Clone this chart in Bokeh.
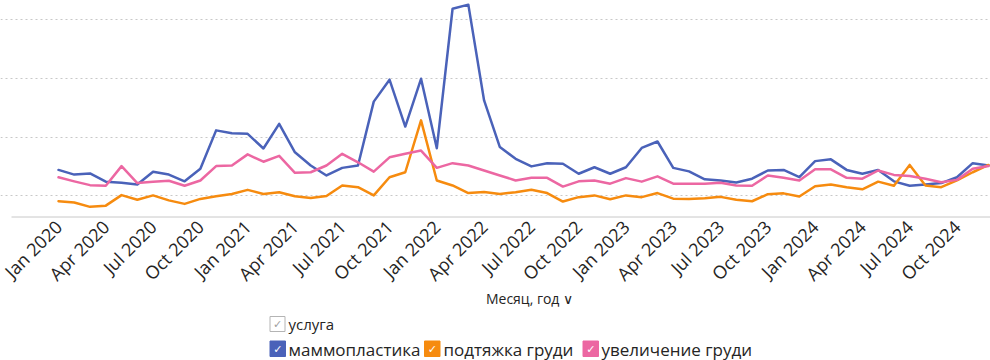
from bokeh.plotting import figure
from bokeh.models import Range1d, FixedTicker, ColumnDataSource
from bokeh.core.properties import value
from bokeh.embed import file_html
from bokeh.resources import INLINE

# ---------------- data ----------------
month_index = list(range(60))  # Jan 2020 .. Dec 2024
tick_positions = list(range(0, 60, 3))
tick_labels = ["Jan 2020", "Apr 2020", "Jul 2020", "Oct 2020",
               "Jan 2021", "Apr 2021", "Jul 2021", "Oct 2021",
               "Jan 2022", "Apr 2022", "Jul 2022", "Oct 2022",
               "Jan 2023", "Apr 2023", "Jul 2023", "Oct 2023",
               "Jan 2024", "Apr 2024", "Jul 2024", "Oct 2024"]

mammoplastika = [28.8, 27.2, 27.6, 24.8, 24.4, 23.8, 28.2, 27.2, 24.9, 29.2,
                 42.3, 41.3, 41.1, 36.1, 44.5, 34.8, 30.3, 26.9, 29.5, 30.3,
                 52.1, 59.6, 43.6, 59.9, 36.2, 83.8, 85.2, 52.5, 36.6, 32.6,
                 30.0, 31.1, 30.9, 27.5, 29.7, 27.5, 29.7, 36.3, 38.5, 29.5,
                 28.3, 25.6, 25.2, 24.5, 25.8, 28.6, 28.8, 26.3, 31.8, 32.4,
                 28.8, 27.5, 28.8, 24.9, 23.4, 23.8, 24.3, 26.3, 31.1, 30.3]
podtyazhka = [18.1, 17.7, 16.2, 16.6, 20.2, 18.6, 20.1, 18.4, 17.2, 18.9,
              19.8, 20.6, 22.0, 20.6, 21.2, 19.8, 19.2, 19.9, 23.5, 22.9,
              20.1, 26.3, 28.0, 45.7, 25.2, 23.5, 20.9, 21.3, 20.6, 21.2,
              22.0, 20.9, 18.0, 19.5, 20.1, 18.8, 20.1, 19.5, 20.9, 19.0,
              18.9, 19.1, 19.6, 18.6, 18.1, 20.5, 20.8, 19.7, 23.2, 23.8,
              22.9, 22.2, 24.8, 23.4, 30.5, 23.5, 22.9, 25.2, 28.0, 30.5]
uvelichenie = [26.3, 24.9, 23.6, 23.4, 30.1, 24.3, 24.8, 25.1, 23.4, 25.2,
               30.1, 30.3, 34.1, 31.6, 33.6, 27.8, 28.0, 30.3, 34.3, 31.4,
               28.2, 33.1, 34.3, 35.4, 29.5, 31.1, 30.3, 28.6, 26.9, 25.2,
               26.1, 26.1, 23.1, 24.9, 25.2, 24.1, 26.0, 24.8, 26.6, 24.1,
               24.1, 24.1, 24.4, 23.5, 23.4, 26.9, 26.1, 25.2, 29.0, 29.0,
               26.1, 25.8, 28.6, 27.1, 26.7, 25.8, 24.6, 25.4, 29.2, 30.1]

series_names = ["маммопластика", "подтяжка груди", "увеличение груди"]
series_values = [mammoplastika, podtyazhka, uvelichenie]
series_colors = ["#4A62B9", "#F68B0F", "#EC67A2"]
legend_title = "услуга"
axis_title = "Месяц, год \u2228"
grid_values = [20, 40, 60, 80]

FONT = "Open Sans"
TEXT_COLOR = "#252423"

# ---------------- layout constants (pixels) ----------------
W, H = 990, 360
FIRST_X, LAST_X = 58, 988          # page x of first / last month
PX_PER_MONTH = (LAST_X - FIRST_X) / (len(month_index) - 1)
PX_PER_UNIT_Y = 2.93               # vertical pixels per value unit
Y_TOP = 86.62                      # value at the top edge
BASE_PX = 216                      # page y of the category axis line
FRAME_LEFT = 11

x_start = -FIRST_X / PX_PER_MONTH
x_end = x_start + W / PX_PER_MONTH
y_end = Y_TOP
y_start = Y_TOP - H / PX_PER_UNIT_Y

p = figure(width=W, height=H, output_backend="svg", toolbar_location=None,
           x_range=Range1d(x_start, x_end), y_range=Range1d(y_start, y_end),
           x_axis_location=None, y_axis_location=None,
           min_border_left=0, min_border_right=0,
           min_border_top=0, min_border_bottom=0)
p.extra_x_ranges = {"px": Range1d(0, W)}
p.extra_y_ranges = {"px": Range1d(H, 0)}
p.outline_line_color = None
p.background_fill_color = "white"
p.xgrid.grid_line_color = None
p.ygrid.ticker = FixedTicker(ticks=grid_values)
p.ygrid.grid_line_color = "#c8c8c8"
p.ygrid.grid_line_dash = "2 3"
p.ygrid.grid_line_width = 1

# category axis line
p.segment(x0=[FRAME_LEFT], x1=[W], y0=[BASE_PX + 0.5], y1=[BASE_PX + 0.5],
          x_range_name="px", y_range_name="px", line_color="#c8c8c8", line_width=1)

# series
for name, vals, col in zip(series_names, series_values, series_colors):
    src = ColumnDataSource(dict(x=month_index, y=vals))
    p.line("x", "y", source=src, line_color=col, line_width=2.5,
           line_join="round", line_cap="round")

# rotated month labels
p.text(x=tick_positions, y=[BASE_PX + 7] * len(tick_positions), y_range_name="px",
       text=tick_labels, angle=0.785398, text_font=value(FONT),
       text_font_size="18px", text_color=TEXT_COLOR,
       text_align="right", text_baseline="middle")

# axis title
p.text(x=[529], y=[298], x_range_name="px", y_range_name="px", text=[axis_title],
       text_font=value(FONT), text_font_size="14px", text_color=TEXT_COLOR,
       text_align="center", text_baseline="middle")

# legend title with grey check box
p.quad(left=[269.5], right=[284.5], top=[316], bottom=[331],
       x_range_name="px", y_range_name="px",
       fill_color="white", line_color="#b4b4b4", line_width=1)
p.text(x=[277], y=[324], x_range_name="px", y_range_name="px", text=["\u2713"],
       text_color="#a0a0a0", text_font=value("DejaVu Sans"), text_font_size="11px",
       text_align="center", text_baseline="middle")
p.text(x=[288], y=[323], x_range_name="px", y_range_name="px", text=[legend_title],
       text_font=value(FONT), text_font_size="15px", text_color=TEXT_COLOR,
       text_align="left", text_baseline="middle")

item_left = [269.5, 424, 582.5]
item_text = [288, 443, 601]
for lx, tx, name, col in zip(item_left, item_text, series_names, series_colors):
    p.quad(left=[lx], right=[lx + 15.5], top=[340.5], bottom=[356],
           x_range_name="px", y_range_name="px",
           fill_color=col, line_color=col, line_width=1)
    p.text(x=[lx + 7.75], y=[349], x_range_name="px", y_range_name="px",
           text=["\u2713"], text_color="white", text_font=value("DejaVu Sans"),
           text_font_size="11px", text_align="center", text_baseline="middle")
    p.text(x=[tx], y=[348.5], x_range_name="px", y_range_name="px", text=[name],
           text_font=value(FONT), text_font_size="17px", text_color=TEXT_COLOR,
           text_align="left", text_baseline="middle")

open("out.html", "w").write(file_html(p, INLINE))
